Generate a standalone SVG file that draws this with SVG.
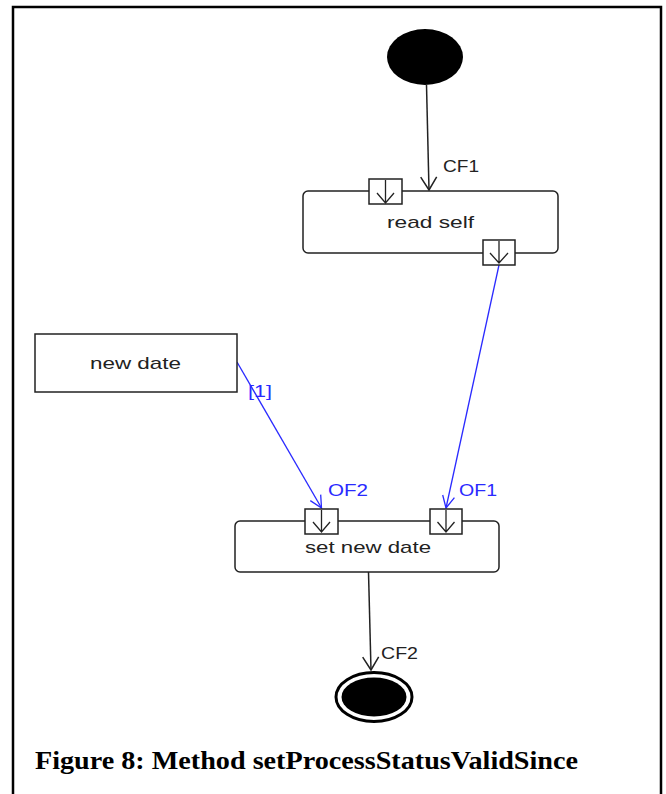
<svg xmlns="http://www.w3.org/2000/svg" width="666" height="794" viewBox="0 0 666 794">
  <style>
    .frame { fill: none; stroke: #000; stroke-width: 2.5; }
    .box { fill: #fff; stroke: #222; stroke-width: 1.5; }
    .pin { fill: #fff; stroke: #222; stroke-width: 1.5; }
    .pinarrow { fill: none; stroke: #222; stroke-width: 1.3; }
    .cf { fill: none; stroke: #222; stroke-width: 1.5; marker-end: url(#openBlack); }
    .of { fill: none; stroke: #2a2aff; stroke-width: 1.3; marker-end: url(#openBlue); }
    .lbl { font-family: "Liberation Sans", Arial, sans-serif; font-size: 17px; fill: #222; }
    .blue { fill: #2a2aff; }
    .caption { font-family: "Liberation Serif", "Times New Roman", serif; font-weight: bold; font-size: 26px; fill: #000; }
  </style>
  <defs>
    <marker id="openBlack" markerUnits="userSpaceOnUse" markerWidth="30" markerHeight="30" viewBox="-15 -15 30 30" refX="0" refY="0" orient="auto">
      <path d="M-13,-8 L0,0 L-13,8" fill="none" stroke="#222" stroke-width="1.5"/>
    </marker>
    <marker id="openBlue" markerUnits="userSpaceOnUse" markerWidth="30" markerHeight="30" viewBox="-15 -15 30 30" refX="0" refY="0" orient="auto">
      <path d="M-12,-6 L0,0 L-12,6" fill="none" stroke="#2a2aff" stroke-width="1.3"/>
    </marker>
  </defs>

  <rect width="666" height="794" fill="#fff"/>
  <path class="frame" d="M13,794 V7 H661 V794"/>

  <!-- flows -->
  <g id="connectors">
    <path class="cf" d="M426.5,85 L429,190"/>
    <path class="of" d="M499,265 L446,508"/>
    <path class="of" d="M237,362 L321.5,508"/>
    <path class="cf" d="M368.5,572 L371,670"/>
    <text class="lbl" x="443" y="172" textLength="36" lengthAdjust="spacingAndGlyphs">CF1</text>
    <text class="lbl blue" x="248" y="397" textLength="24" lengthAdjust="spacingAndGlyphs">[1]</text>
    <text class="lbl blue" x="328" y="496" textLength="40" lengthAdjust="spacingAndGlyphs">OF2</text>
    <text class="lbl blue" x="459" y="496" textLength="38" lengthAdjust="spacingAndGlyphs">OF1</text>
    <text class="lbl" x="381" y="659" textLength="37" lengthAdjust="spacingAndGlyphs">CF2</text>
  </g>

  <g id="start">
    <ellipse cx="425" cy="57" rx="38" ry="28" fill="#000"/>
  </g>

  <g id="read-self">
    <rect class="box" x="303" y="191" width="255" height="62" rx="5"/>
    <text class="lbl" x="387" y="228" textLength="87" lengthAdjust="spacingAndGlyphs">read self</text>
    <rect class="pin" x="369" y="179" width="33" height="25"/>
    <path class="pinarrow" d="M385.5,180 V203 M377,193 L385.5,203 L394,193"/>
    <rect class="pin" x="483" y="240" width="32" height="25"/>
    <path class="pinarrow" d="M499,241 V263 M490,253 L499,263 L508,253"/>
  </g>

  <g id="new-date">
    <rect class="box" x="35" y="334" width="202" height="58"/>
    <text class="lbl" x="90" y="369" textLength="91" lengthAdjust="spacingAndGlyphs">new date</text>
  </g>

  <g id="set-new-date">
    <rect class="box" x="235" y="521" width="264" height="51" rx="5"/>
    <text class="lbl" x="305" y="553" textLength="126" lengthAdjust="spacingAndGlyphs">set new date</text>
    <rect class="pin" x="305" y="509" width="33" height="25"/>
    <path class="pinarrow" d="M321.5,510 V532 M313,522 L321.5,532 L330,522"/>
    <rect class="pin" x="430" y="509" width="32" height="25"/>
    <path class="pinarrow" d="M446,510 V532 M437.5,522 L446,532 L454.5,522"/>
  </g>

  <g id="end">
    <ellipse cx="374" cy="697" rx="38" ry="24.5" fill="#fff" stroke="#000" stroke-width="3"/>
    <ellipse cx="374" cy="697" rx="32.5" ry="19.5" fill="#000"/>
  </g>

  <text class="caption" x="35" y="769" textLength="543" lengthAdjust="spacingAndGlyphs">Figure 8: Method setProcessStatusValidSince</text>
</svg>
